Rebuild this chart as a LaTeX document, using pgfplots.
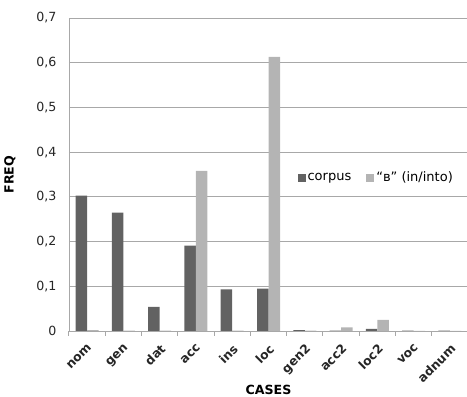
\documentclass[border=0pt]{standalone}
\usepackage{pgfplots}
\pgfplotsset{compat=1.18}
\usepackage{fontspec}
\setmainfont{DejaVu Sans}
\definecolor{corp}{HTML}{626262}
\definecolor{vv}{HTML}{B4B4B4}
\definecolor{gridc}{HTML}{A8A8A8}
\begin{document}
\begin{tikzpicture}
\begin{axis}[name=ax,
  scale only axis, width=399pt, height=313pt,
  ybar=0pt, bar width=11.5pt,
  xmin=-0.5, xmax=10.5, ymin=0, ymax=0.7,
  xtick={-0.5,0.5,...,10.5},
  x tick label as interval,
  xticklabels={nom,gen,dat,acc,ins,loc,gen2,acc2,loc2,voc,adnum},
  x tick style={draw=gridc, line width=1pt},
  tick align=outside, major tick length=5pt,
  ytick={0,0.1,...,0.7},
  y tick label style={/pgf/number format/fixed, /pgf/number format/use comma, /pgf/number format/precision=1},
  y tick style={draw=none},
  /pgf/number format/assume math mode=true,
  ymajorgrids, grid style={gridc, line width=0.8pt},
  axis x line*=bottom, axis y line*=left,
  axis line style={gridc, line width=0.8pt},
  every axis plot/.append style={draw=none},
  tick label style={font=\fontsize{12.6}{14}\selectfont, text=black!85},
  yticklabel style={xshift=-4pt},
  xticklabel style={xshift=0pt, yshift=-7pt, rotate=45, anchor=north east, inner sep=0pt, font=\fontsize{12.3}{14}\selectfont\bfseries},
  xlabel={\bfseries CASES}, ylabel={\bfseries FREQ},
  label style={font=\fontsize{12.6}{14}\selectfont\bfseries},
  xlabel style={at={(axis description cs:0.5,0)}, anchor=center, yshift=-59pt},
  ylabel style={yshift=14pt},
  legend style={draw=none, fill=none, at={(0.975,0.49)}, anchor=east,
    legend columns=2, font=\fontsize{13}{15}\selectfont,
    /tikz/every even column/.append style={column sep=13pt}},
  legend image code/.code={\fill[#1] (0pt,-4pt) rectangle (8pt,4pt);},
  legend cell align=left,
]
\addplot[fill=corp] coordinates {(0,0.303) (1,0.265) (2,0.054) (3,0.191) (4,0.093) (5,0.095) (6,0.002) (7,0.001) (8,0.005) (9,0.001) (10,0.001)};
\addplot[fill=vv] coordinates {(0,0.002) (1,0.001) (2,0.001) (3,0.358) (4,0.001) (5,0.613) (6,0.001) (7,0.008) (8,0.025) (9,0.0005) (10,0.0005)};
\legend{corpus,“в” (in/into)}
\end{axis}
\pgfresetboundingbox
\path ([xshift=-69pt,yshift=-66pt]ax.south west) rectangle ([xshift=-1pt,yshift=18pt]ax.north east);
\end{tikzpicture}
\end{document}
